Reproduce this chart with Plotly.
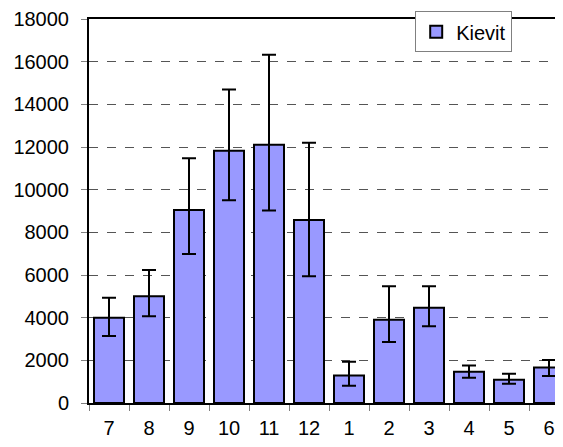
import plotly.graph_objects as go

# months, July through June
months = ['7', '8', '9', '10', '11', '12', '1', '2', '3', '4', '5', '6']
kievit = [4000, 5000, 9050, 11830, 12100, 8580, 1290, 3900, 4460, 1460, 1090, 1660]
err_plus = [930, 1230, 2420, 2870, 4220, 3620, 640, 1570, 1010, 300, 280, 360]
err_minus = [860, 930, 2070, 2330, 3080, 2640, 480, 1040, 860, 280, 190, 390]

fig = go.Figure()
fig.add_trace(go.Bar(
    name='Kievit', x=months, y=kievit,
    marker={'color': '#9999FF', 'line': {'color': 'black', 'width': 2}},
    error_y={'type': 'data', 'symmetric': False, 'array': err_plus,
             'arrayminus': err_minus, 'color': 'black', 'thickness': 2, 'width': 7},
))

# page body has an 8px margin, so the figure is sized to fit inside it
fig.update_layout(
    width=547, height=431,
    margin={'l': 81, 'r': 0, 't': 11, 'b': 36, 'autoexpand': False},
    plot_bgcolor='white', paper_bgcolor='white',
    font={'family': 'Liberation Sans, Arial', 'size': 20, 'color': 'black'},
    bargap=0.25,
    showlegend=True,
    legend={'x': 0.70, 'y': 1.02, 'xanchor': 'left', 'yanchor': 'top',
            'bordercolor': '#808080', 'borderwidth': 1, 'bgcolor': 'white',
            'font': {'size': 20}, 'itemwidth': 30},
)
fig.update_xaxes(
    range=[-0.5, 11.15], showline=True, linecolor='black', linewidth=2, mirror=True,
    ticks='outside', tickson='boundaries', ticklen=6, tickcolor='#808080',
    showgrid=False, automargin=False, ticklabelstandoff=6,
)
fig.update_yaxes(
    range=[0, 18000], dtick=2000, tickformat='d', showline=True, linecolor='black',
    linewidth=2, ticks='outside', ticklen=6, tickcolor='#808080', ticklabelstandoff=8,
    ticklabeloverflow='allow',
    showgrid=True, gridcolor='#555555', griddash='dash', gridwidth=1, zeroline=False,
    automargin=False,
)

fig.write_html("out.html")
